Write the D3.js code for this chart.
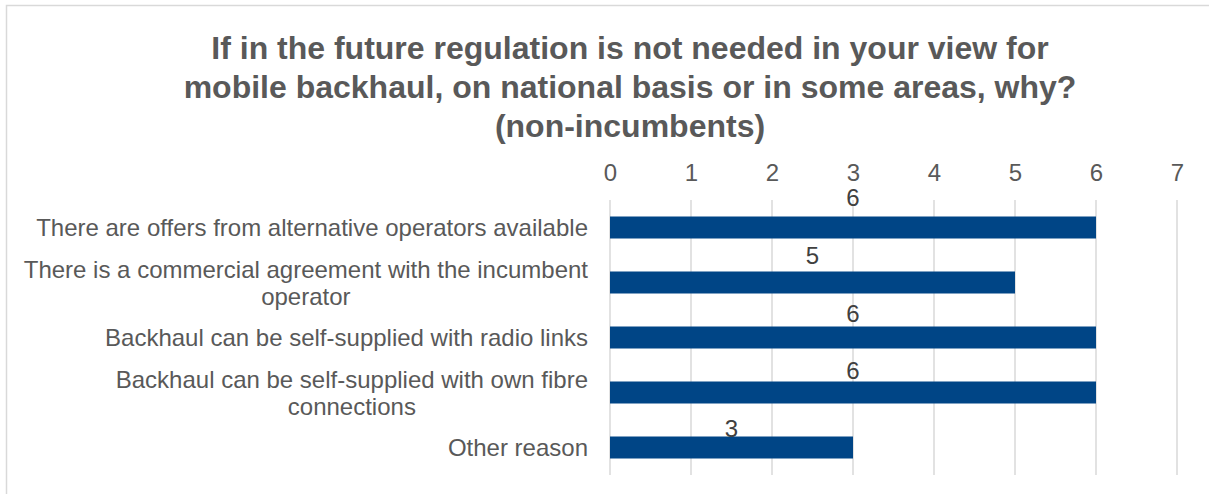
<!DOCTYPE html>
<html><head><meta charset="utf-8">
<script src="https://cdn.jsdelivr.net/npm/d3@7"></script>
<style>html,body{margin:0;padding:0;background:#fff;}svg{display:block;}</style>
</head><body>
<script>
const titleLines = ["If in the future regulation is not needed in your view for","mobile backhaul, on national basis or in some areas, why?","(non-incumbents)"];
const categories = [
  ["There are offers from alternative operators available"],
  ["There is a commercial agreement with the incumbent","operator"],
  ["Backhaul can be self-supplied with radio links"],
  ["Backhaul can be self-supplied with own fibre","connections"],
  ["Other reason"]
];
const values = [6,5,6,6,3];
const ticks = [0,1,2,3,4,5,6,7];

const W=1209,H=494;
const svg=d3.select("body").append("svg").attr("width",W).attr("height",H);
const font="'Liberation Sans', Arial, sans-serif";
// border
svg.append("rect").attr("x",6.5).attr("y",5.5).attr("width",1220).attr("height",600)
  .attr("fill","none").attr("stroke","#d9d9d9").attr("stroke-width",1.5);

const t=svg.append("text").attr("text-anchor","middle").attr("font-family",font)
  .attr("font-weight","bold").attr("font-size",32).attr("fill","#595959");
titleLines.forEach((l,i)=>t.append("tspan").attr("x",630).attr("y",59+i*39).text(l));

const x=d3.scaleLinear().domain([0,7]).range([610,1177]);
const y=d3.scaleBand().domain(d3.range(values.length)).range([200,475]).paddingInner(0.6).paddingOuter(0.3);
const yLab=d3.scalePoint().domain(d3.range(values.length)).range([206,437]);

svg.append("g").selectAll("line").data(ticks).join("line")
  .attr("x1",d=>x(d)).attr("x2",d=>x(d)).attr("y1",200).attr("y2",475)
  .attr("stroke","#d9d9d9").attr("stroke-width",1.5);

const ax=d3.axisTop(x).tickValues(ticks).tickFormat(d3.format("d")).tickSize(0).tickPadding(0);
const g=svg.append("g").attr("transform","translate(0,181)").call(ax);
g.select(".domain").remove();
g.selectAll("text").attr("font-family",font).attr("font-size",24).attr("fill","#595959").attr("dy",0);

svg.append("g").selectAll("rect").data(values).join("rect")
  .attr("x",x(0)).attr("y",(d,i)=>y(i)).attr("width",d=>x(d)-x(0)).attr("height",y.bandwidth())
  .attr("fill","#004586");

svg.append("g").selectAll("text").data(values).join("text")
  .attr("x",d=>x(d/2)).attr("y",(d,i)=>yLab(i)).attr("text-anchor","middle")
  .attr("font-family",font).attr("font-size",24).attr("fill","#404040").text(d=>d);

const cl=svg.append("g");
categories.forEach((lines,i)=>{
  const cy=y(i)+y.bandwidth()/2;
  const n=lines.length, lh=27;
  lines.forEach((l,j)=>{});
  const spans=lines.map((l,j)=>cl.append("text").attr("font-family",font)
    .attr("font-size",24).attr("fill","#595959")
    .attr("y",cy+8.5-(n-1)*lh/2+j*lh).text(l));
  const widths=spans.map(s=>s.node().getComputedTextLength());
  const maxW=d3.max(widths), right=588, center=right-maxW/2;
  spans.forEach(s=>s.attr("x",center).attr("text-anchor","middle"));
});
</script>
</body></html>
